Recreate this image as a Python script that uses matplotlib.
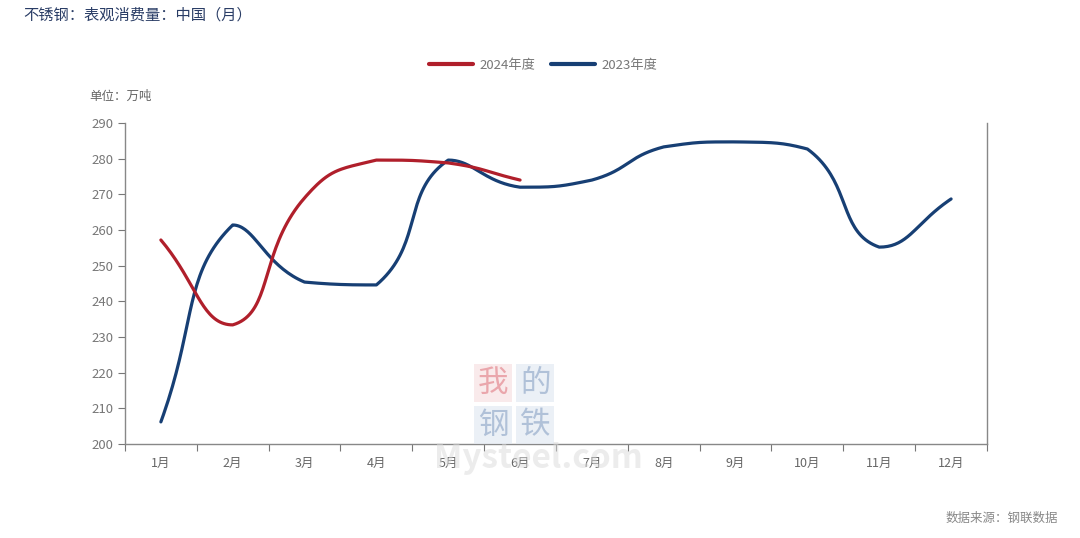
import numpy as np
import matplotlib.pyplot as plt
from matplotlib.lines import Line2D

plt.rcParams['font.family'] = ['Noto Sans CJK SC', 'DejaVu Sans']

months = ['1月', '2月', '3月', '4月', '5月', '6月', '7月', '8月', '9月', '10月', '11月', '12月']
y2024 = [257.2, 233.4, 269.0, 279.6, 278.8, 274.0]
y2023 = [206.2, 261.4, 245.4, 244.6, 279.6, 272.0, 274.0, 283.3, 284.7, 282.7, 255.2, 268.7]

RED = '#b01f2b'
BLUE = '#173f74'

# echarts风格平滑 (像素比例)
SX, SY = 71.8, 3.567


def smooth_curve(xs, ys, smooth=0.5, n=40):
    pts = np.column_stack([np.array(xs) * SX, np.array(ys) * SY])
    m = len(pts)
    cps = []
    for i in range(m):
        p = pts[i]
        prev = pts[i - 1] if i > 0 else p
        nxt = pts[i + 1] if i < m - 1 else p
        v = nxt - prev
        l0 = np.hypot(*(p - prev))
        l1 = np.hypot(*(nxt - p))
        r = l1 / (l0 + l1) if (l0 + l1) > 0 else 0.5
        c_out = p + v * smooth * r
        c_in = p - v * smooth * (1 - r)
        c_out = np.clip(c_out, np.minimum(p, nxt), np.maximum(p, nxt))
        c_in = np.clip(c_in, np.minimum(p, prev), np.maximum(p, prev))
        cps.append((c_in, c_out))
    out = []
    t = np.linspace(0, 1, n)[:, None]
    for i in range(m - 1):
        p0, p3 = pts[i], pts[i + 1]
        p1, p2 = cps[i][1], cps[i + 1][0]
        seg = (1 - t) ** 3 * p0 + 3 * (1 - t) ** 2 * t * p1 + 3 * (1 - t) * t ** 2 * p2 + t ** 3 * p3
        out.append(seg)
    out = np.vstack(out)
    return out[:, 0] / SX, out[:, 1] / SY


fig = plt.figure(figsize=(10.8, 5.38), dpi=100)
ax = fig.add_axes([0.1157, 0.1747, 0.7982, 0.5967])

x23 = np.arange(len(y2023)) + 0.5
x24 = np.arange(len(y2024)) + 0.5
sx, sy = smooth_curve(x23, y2023)
ax.plot(sx, sy, color=BLUE, lw=2.3, solid_capstyle='round', zorder=3)
sx, sy = smooth_curve(x24, y2024)
ax.plot(sx, sy, color=RED, lw=2.3, solid_capstyle='round', zorder=4)

ax.set_xlim(0, 12)
ax.set_ylim(200, 290)
ax.set_yticks(range(200, 291, 10))
ax.set_xticks(range(0, 13))
ax.set_xticklabels([])
ax.set_xticks(x23, minor=True)
ax.set_xticklabels(months, minor=True)
ax.tick_params(axis='x', which='minor', length=0, pad=9, labelsize=9, labelcolor='#666666')
ax.tick_params(axis='x', which='major', length=5, color='#777777', direction='out')
ax.tick_params(axis='y', length=5, color='#777777', labelsize=9.5, labelcolor='#777777', pad=3)

for s in ['left', 'bottom', 'right']:
    ax.spines[s].set_color('#888888')
    ax.spines[s].set_linewidth(1.0)
ax.spines['top'].set_visible(False)

# 水印
wm = [('我', 0.4565, 0.288, '#e07a82', '#f6dcde'),
      ('的', 0.4955, 0.288, '#8aa2c4', '#dfe6f0'),
      ('钢', 0.4565, 0.210, '#8aa2c4', '#dfe6f0'),
      ('铁', 0.4955, 0.210, '#8aa2c4', '#dfe6f0')]
for ch, xx, yy, fc, bc in wm:
    fig.text(xx, yy, ch, fontsize=22, color=fc, alpha=0.6, ha='center', va='center', zorder=0,
             bbox=dict(boxstyle='square,pad=0.12', fc=bc, ec='none', alpha=0.6))
fig.text(0.499, 0.148, 'Mysteel.com', fontsize=24, color='#dadada', alpha=0.5,
         ha='center', va='center', fontweight='bold', zorder=0)

fig.text(0.022, 0.972, '不锈钢：表观消费量：中国（月）', fontsize=11, color='#2a3d66',
         ha='left', va='center')
fig.text(0.083, 0.82, '单位：万吨', fontsize=9, color='#666666', ha='left', va='center')
fig.text(0.98, 0.037, '数据来源：钢联数据', fontsize=9, color='#888888', ha='right', va='center')

handles = [Line2D([0], [0], color=RED, lw=3, solid_capstyle='round'),
           Line2D([0], [0], color=BLUE, lw=3, solid_capstyle='round')]
fig.legend(handles, ['2024年度', '2023年度'], loc='center', bbox_to_anchor=(0.503, 0.879),
           ncol=2, frameon=False, fontsize=9.5, labelcolor='#777777',
           handlelength=3.3, columnspacing=1.2, handletextpad=0.5)

plt.savefig('out.png', dpi=100)
